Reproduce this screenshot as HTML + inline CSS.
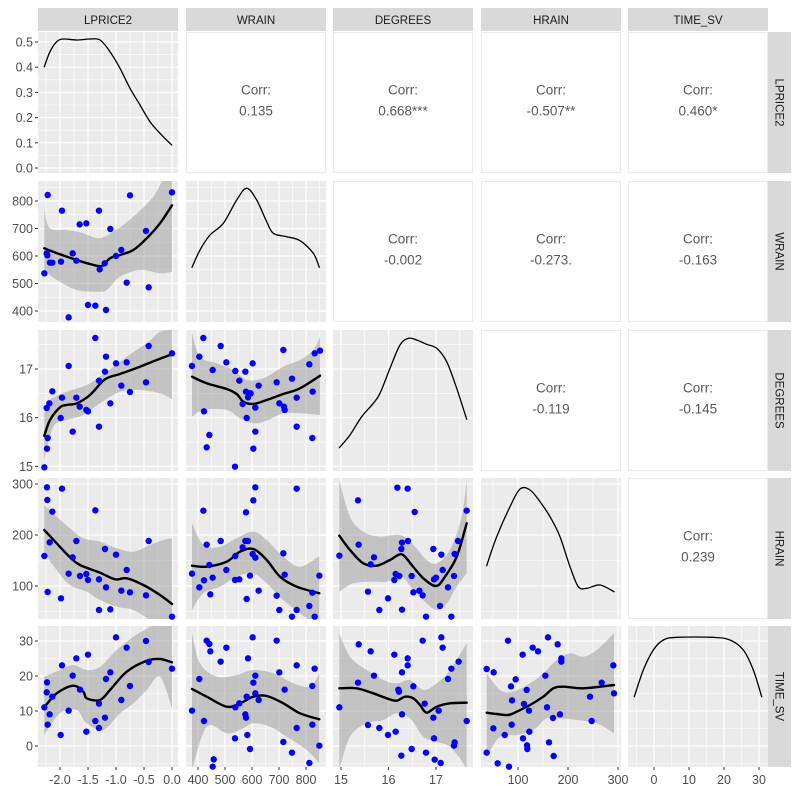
<!DOCTYPE html>
<html><head><meta charset="utf-8"><style>
body{margin:0;background:#fff;}
svg{display:block;font-family:"Liberation Sans",sans-serif;}
</style></head><body>
<svg id="s" width="800" height="800" xmlns="http://www.w3.org/2000/svg"></svg>
<script>
const S=document.getElementById('s');
const NS='http://www.w3.org/2000/svg';
function el(t,a,txt){const e=document.createElementNS(NS,t);for(const k in a)e.setAttribute(k,a[k]);if(txt!==undefined)e.textContent=txt;S.appendChild(e);return e;}
const C=[[38,178],[186,326],[333,473],[481,621],[628,768]];
const R=[[32,173],[181,322],[330,471],[478,619],[626,767]];
const xs=[v=>172+56*v, v=>198+(v-400)*0.27, v=>341+(v-15)*47.5, v=>518+(v-100)*0.5, v=>654+3.5*v];
const ys=[v=>168-252*v, v=>201+(800-v)*0.275, v=>369+(17-v)*48.7, v=>586-(v-100)*0.51, v=>746-3.5*v];
const xMaj=[[-2,-1.5,-1,-0.5,0],[400,500,600,700,800],[15,16,17],[100,200,300],[0,10,20,30]];
const xMin=[[-2.25,-1.75,-1.25,-0.75,-0.25],[350,450,550,650,750,850],[15.5,16.5,17.5],[50,150,250],[-5,5,15,25]];
const xLab=[["-2.0","-1.5","-1.0","-0.5","0.0"],["400","500","600","700","800"],["15","16","17"],["100","200","300"],["0","10","20","30"]];
const yMaj=[[0,0.1,0.2,0.3,0.4,0.5],[400,500,600,700,800],[15,16,17],[100,200,300],[0,10,20,30]];
const yMin=[[0.05,0.15,0.25,0.35,0.45],[350,450,550,650,750,850],[15.5,16.5,17.5],[50,150,250],[-5,5,15,25]];
const yLab=[["0.0","0.1","0.2","0.3","0.4","0.5"],["400","500","600","700","800"],["15","16","17"],["100","200","300"],["0","10","20","30"]];
const names=["LPRICE2","WRAIN","DEGREES","HRAIN","TIME_SV"];
const corr={"0,1":"0.135","0,2":"0.668***","0,3":"-0.507**","0,4":"0.460*","1,2":"-0.002","1,3":"-0.273.","1,4":"-0.163","2,3":"-0.119","2,4":"-0.145","3,4":"0.239"};
for(let r=0;r<5;r++)for(let c=0;c<5;c++){
  const [x0,x1]=C[c],[y0,y1]=R[r];
  if(c>r){
    el('rect',{x:x0+0.5,y:y0+0.5,width:x1-x0-1,height:y1-y0-1,fill:'#fff',stroke:'#ebebeb','stroke-width':1});
    const cx=(x0+x1)/2,cy=(y0+y1)/2;
    el('text',{x:cx,y:cy-8,'text-anchor':'middle','font-size':13.5,fill:'#595959'},'Corr:');
    el('text',{x:cx,y:cy+13,'text-anchor':'middle','font-size':13.5,fill:'#595959'},corr[r+','+c]);
    continue;
  }
  el('rect',{x:x0,y:y0,width:x1-x0,height:y1-y0,fill:'#ebebeb'});
  for(const v of xMin[c]){const x=xs[c](v);if(x>x0&&x<x1)el('line',{x1:x,x2:x,y1:y0,y2:y1,stroke:'#fff','stroke-width':0.6});}
  for(const v of yMin[r]){const y=ys[r](v);if(y>y0&&y<y1)el('line',{x1:x0,x2:x1,y1:y,y2:y,stroke:'#fff','stroke-width':0.6});}
  for(const v of xMaj[c]){const x=xs[c](v);if(x>x0&&x<x1)el('line',{x1:x,x2:x,y1:y0,y2:y1,stroke:'#fff','stroke-width':1.2});}
  for(const v of yMaj[r]){const y=ys[r](v);if(y>y0&&y<y1)el('line',{x1:x0,x2:x1,y1:y,y2:y,stroke:'#fff','stroke-width':1.2});}
}
for(let c=0;c<5;c++){el('rect',{x:C[c][0],y:8,width:C[c][1]-C[c][0],height:23,fill:'#d9d9d9'});
  el('text',{x:(C[c][0]+C[c][1])/2,y:24,'text-anchor':'middle','font-size':11.5,fill:'#1a1a1a'},names[c]);}
for(let r=0;r<5;r++){el('rect',{x:768,y:R[r][0],width:23,height:R[r][1]-R[r][0],fill:'#d9d9d9'});
  const cy=(R[r][0]+R[r][1])/2;
  el('text',{x:0,y:0,'text-anchor':'middle','font-size':11.5,fill:'#1a1a1a',transform:`translate(775.5,${cy}) rotate(90)`},names[r]);}
for(let r=0;r<5;r++)yMaj[r].forEach((v,i)=>{const y=ys[r](v);el('line',{x1:35,x2:38,y1:y,y2:y,stroke:'#333','stroke-width':1});
  el('text',{x:33,y:y+4.5,'text-anchor':'end','font-size':12.5,fill:'#4d4d4d'},yLab[r][i]);});
for(let c=0;c<5;c++)xMaj[c].forEach((v,i)=>{const x=xs[c](v);el('line',{x1:x,x2:x,y1:767,y2:770,stroke:'#333','stroke-width':1});
  el('text',{x:x,y:784,'text-anchor':'middle','font-size':12.5,fill:'#4d4d4d'},xLab[c][i]);});
function tr(ox,oy,pts){return pts.map(p=>[ox+p[0]/3,oy+p[1]/3]);}
function pstr(p){return p.map(q=>q[0].toFixed(1)+','+q[1].toFixed(1)).join(' ');}
function smooth(p){
  let d='M'+p[0][0].toFixed(1)+','+p[0][1].toFixed(1);
  for(let i=0;i<p.length-1;i++){
    const p0=p[i-1]||p[i],p1=p[i],p2=p[i+1],p3=p[i+2]||p2;
    const c1=[p1[0]+(p2[0]-p0[0])/6,p1[1]+(p2[1]-p0[1])/6];
    const c2=[p2[0]-(p3[0]-p1[0])/6,p2[1]-(p3[1]-p1[1])/6];
    d+=`C${c1[0].toFixed(1)},${c1[1].toFixed(1)} ${c2[0].toFixed(1)},${c2[1].toFixed(1)} ${p2[0].toFixed(1)},${p2[1].toFixed(1)}`;
  }
  return d;
}
function band(up,lo,clip){
  const d=smooth(up)+'L'+smooth(lo.slice().reverse()).slice(1)+'Z';
  el('path',{d:d,fill:'#999','fill-opacity':0.5,'clip-path':clip});}
function line(p,w,clip){el('path',{d:smooth(p),fill:'none',stroke:'#000','stroke-width':w,'stroke-linejoin':'round','stroke-linecap':'round','clip-path':clip});}
function pts(p){p.forEach(q=>el('circle',{cx:q[0],cy:q[1],r:3.2,fill:'#0000ff'}));}
const defs=el('defs',{});
for(let r=0;r<5;r++)for(let c=0;c<5;c++){const cp=document.createElementNS(NS,'clipPath');cp.setAttribute('id',`c${r}${c}`);
  const rc=document.createElementNS(NS,'rect');rc.setAttribute('x',C[c][0]);rc.setAttribute('y',R[r][0]);rc.setAttribute('width',C[c][1]-C[c][0]);rc.setAttribute('height',R[r][1]-R[r][0]);cp.appendChild(rc);defs.appendChild(cp);}
function panel(r,c,ox,oy,P,L,U,Lo){const cl=`url(#c${r}${c})`;band(tr(ox,oy,U),tr(ox,oy,Lo),cl);line(tr(ox,oy,L),2.4,cl);pts(tr(ox,oy,P));}
panel(1,0,0,170,[[143,75],[186,122],[239,163],[259,160],[297,122],[331,177],[390,76],[516,67],[133,310],[140,250],[142,256],[150,278],[157,278],[183,275],[218,250],[229,272],[299,298],[314,280],[348,258],[364,240],[380,338],[438,183],[446,352],[264,405],[286,407],[318,420],[206,442]],
 [[133,235],[180,253],[230,270],[270,282],[305,288],[330,265],[360,255],[400,240],[440,205],[480,160],[516,106]],
 [[133,120],[150,175],[200,180],[250,190],[295,205],[340,185],[400,140],[460,80],[490,30],[516,30]],
 [[133,300],[170,330],[230,360],[290,365],[320,360],[360,320],[420,300],[480,310],[516,305]]);
panel(2,0,0,170,[[133,892],[141,836],[143,804],[140,714],[148,700],[157,664],[182,744],[186,683],[206,588],[218,785],[229,683],[239,710],[259,720],[264,724],[286,504],[297,770],[297,632],[315,605],[318,560],[331,700],[348,580],[364,647],[380,577],[390,666],[438,637],[446,528],[516,550]],
 [[133,797],[150,750],[180,712],[200,705],[230,700],[270,675],[315,628],[360,612],[420,590],[470,570],[516,553]],
 [[133,730],[150,690],[200,665],[260,645],[320,605],[380,560],[440,520],[480,485],[516,480]],
 [[133,870],[160,770],[200,750],[250,735],[300,700],[360,665],[420,660],[480,670],[516,688]]);
panel(2,1,0,170,[[576,588],[598,560],[610,504],[612,724],[620,832],[628,795],[638,600],[662,528],[679,577],[705,890],[706,603],[718,632],[728,702],[736,605],[738,665],[740,744],[744,682],[748,670],[752,670],[758,580],[760,836],[766,785],[766,713],[776,647],[830,637],[838,700],[850,540],[852,710],[854,720],[876,626],[890,770],[890,683],[928,583],[937,804],[938,665],[944,550],[960,542]],
 [[576,620],[620,640],[680,657],[710,672],[730,695],[760,702],[800,690],[850,672],[900,655],[960,617]],
 [[576,490],[600,560],[650,580],[700,600],[740,630],[790,625],[850,590],[900,570],[940,540],[960,500]],
 [[576,740],[610,720],[680,720],[720,745],[760,760],[800,752],[850,730],[900,730],[960,735]]);
panel(3,0,0,470,[[141,52],[186,56],[142,90],[157,125],[286,121],[149,217],[133,258],[143,366],[183,385],[206,311],[218,262],[229,213],[240,318],[259,312],[264,330],[297,328],[297,420],[315,237],[318,352],[331,418],[348,254],[364,362],[380,300],[390,367],[438,376],[446,213],[516,440]],
 [[133,180],[170,220],[210,262],[240,285],[300,308],[345,328],[380,325],[430,345],[480,375],[516,402]],
 [[133,105],[170,140],[210,175],[250,205],[300,215],[350,235],[400,245],[450,225],[490,210],[516,205]],
 [[133,250],[170,300],[210,345],[260,365],[300,390],[350,410],[400,420],[450,450],[480,470],[516,480]]);
panel(3,1,0,470,[[576,311],[598,352],[612,331],[610,122],[620,224],[628,285],[631,373],[638,323],[662,213],[679,300],[705,330],[706,258],[718,328],[728,232],[736,213],[738,127],[740,387],[744,213],[750,317],[758,252],[760,91],[766,263],[766,52],[776,362],[830,377],[838,420],[850,250],[854,314],[876,440],[890,56],[890,420],[928,408],[937,368],[944,440],[958,317]],
 [[576,287],[620,290],[680,275],[720,245],[760,237],[800,270],[840,320],[890,350],[958,370]],
 [[576,160],[610,225],[660,230],[710,205],[760,185],[800,210],[850,260],[900,290],[958,258]],
 [[576,420],[610,370],[660,350],[710,320],[760,310],[800,340],[850,390],[900,430],[958,470]]);
panel(4,0,0,470,[[133,712],[141,637],[140,667],[143,764],[149,733],[157,680],[182,795],[186,586],[206,722],[218,617],[229,565],[240,659],[259,785],[264,554],[286,753],[297,774],[297,701],[315,743],[318,627],[331,607],[348,502],[364,690],[380,533],[390,648],[438,513],[446,576],[516,596]],
 [[133,712],[170,670],[220,647],[250,665],[260,685],[300,690],[330,660],[380,605],[440,572],[480,567],[516,577]],
 [[133,620],[180,600],[220,585],[260,600],[300,590],[350,540],[400,500],[450,470],[490,440],[516,440]],
 [[133,795],[180,730],[230,720],[260,760],[310,780],[360,730],[400,700],[440,660],[480,620],[516,715]]);
panel(4,1,0,470,[[576,722],[598,627],[612,753],[620,512],[628,522],[631,544],[638,890],[641,868],[662,575],[679,533],[705,805],[706,712],[718,700],[736,733],[738,743],[740,680],[742,795],[744,565],[750,837],[758,502],[760,638],[766,617],[766,670],[776,690],[830,512],[838,607],[850,816],[854,659],[876,848],[890,774],[890,586],[928,879],[937,764],[937,648],[944,596],[958,827]],
 [[576,657],[620,680],[680,710],[720,700],[760,680],[800,678],[850,700],[900,730],[958,748]],
 [[576,490],[600,580],[650,620],[710,615],[760,600],[820,610],[880,640],[930,650],[958,610]],
 [[576,900],[620,770],[680,790],[720,780],[760,760],[810,770],[860,800],[920,840],[958,880]]);
panel(3,2,330,470,[[28,257],[84,91],[86,224],[114,365],[122,283],[132,262],[148,420],[174,385],[193,330],[197,312],[202,53],[208,318],[214,237],[216,419],[216,218],[233,56],[234,213],[245,318],[250,367],[254,126],[268,362],[278,376],[288,440],[310,237],[312,328],[318,323],[330,408],[334,254],[338,300],[354,352],[364,440],[372,318],[374,252],[384,213],[410,122]],
 [[28,197],[60,240],[100,280],[140,287],[180,270],[215,253],[245,285],[280,325],[318,348],[345,320],[380,260],[410,160]],
 [[28,30],[60,140],[100,185],[150,200],[210,195],[250,225],[290,270],[320,280],[360,240],[395,140],[410,30]],
 [[28,365],[70,340],[120,335],[170,335],[215,320],[250,360],[290,400],[320,420],[350,400],[380,350],[410,310]]);
panel(4,2,330,470,[[28,712],[84,638],[86,523],[114,765],[122,544],[132,617],[148,774],[174,795],[193,554],[197,785],[205,659],[207,665],[214,857],[216,607],[216,733],[233,586],[233,565],[245,837],[250,649],[278,512],[284,701],[288,848],[310,743],[312,805],[314,869],[326,722],[332,879],[334,502],[338,533],[354,627],[364,596],[372,827],[374,817],[386,575],[410,753]],
 [[28,655],[80,655],[130,670],[170,685],[200,692],[225,680],[250,685],[270,705],[290,728],[320,710],[360,700],[410,698]],
 [[28,490],[60,560],[110,600],[160,630],[200,640],[240,630],[280,660],[320,640],[360,600],[410,520]],
 [[28,900],[60,800],[110,760],[160,750],[200,730],[240,745],[280,800],[320,815],[360,830],[400,880],[410,900]]);
panel(4,3,330,470,[[470,597],[491,607],[470,848],[490,775],[503,880],[524,795],[534,512],[537,890],[543,649],[545,764],[546,691],[557,628],[578,554],[579,805],[582,702],[590,660],[591,826],[592,837],[597,722],[598,785],[608,533],[624,544],[646,617],[651,712],[654,502],[657,817],[669,744],[671,858],[683,523],[690,733],[694,575],[694,565],[780,680],[785,753],[815,638],[850,586],[852,670]],
 [[470,728],[500,732],[535,735],[560,725],[600,705],[640,680],[670,655],[700,650],[760,655],[852,645]],
 [[470,610],[510,660],[550,665],[600,640],[640,610],[680,570],[720,550],[760,560],[800,540],[852,490]],
 [[470,860],[510,800],[560,795],[610,780],[650,745],[690,745],[740,750],[800,760],[852,790]]);
function dens(r,c,ox,oy,p){line(tr(ox,oy,p),1.3,`url(#c${r}${c})`);}
dens(0,0,30,25,[[43,125],[60,80],[80,50],[100,42],[140,45],[180,42],[210,45],[240,80],[270,130],[300,190],[330,240],[360,290],[390,325],[425,360]]);
dens(1,1,0,170,[[576,292],[600,240],[630,195],[670,160],[710,90],[740,55],[770,90],[800,155],[820,190],[860,200],[900,212],[940,250],[958,292]]);
dens(2,2,330,325,[[28,368],[60,330],[95,275],[130,235],[150,205],[180,130],[210,60],[235,40],[260,45],[290,58],[320,70],[350,110],[380,190],[410,283]]);
dens(3,3,330,470,[[470,287],[500,200],[540,110],[570,57],[600,60],[630,95],[660,140],[690,200],[720,290],[745,350],[770,355],[810,345],[852,365]]);
dens(4,4,330,470,[[913,680],[940,600],[970,540],[1000,510],[1040,502],[1150,502],[1200,510],[1240,540],[1270,600],[1295,680]]);
</script>
</body></html>
